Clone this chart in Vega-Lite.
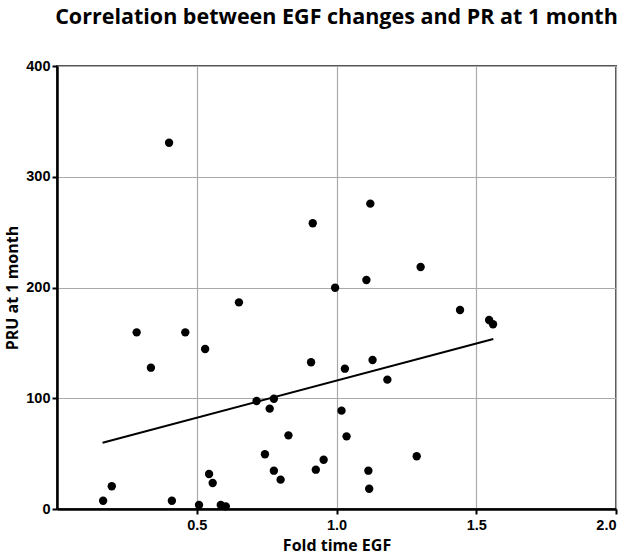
{
  "$schema": "https://vega.github.io/schema/vega-lite/v6.json",
  "autosize": "none",
  "width": 559,
  "height": 443,
  "padding": {"left": 57, "top": 66, "right": 12, "bottom": 50},
  "background": "white",
  "title": {
    "text": "Correlation between EGF changes and PR at 1 month",
    "font": "Open Sans",
    "fontSize": 21.5,
    "fontWeight": "bold",
    "color": "black",
    "anchor": "middle",
    "offset": 30
  },
  "config": {
    "view": {"stroke": "#555", "strokeWidth": 2},
    "axis": {
      "labelFont": "Liberation Sans",
      "labelFontWeight": "bold",
      "labelFontSize": 14.5,
      "labelColor": "black",
      "titleFont": "Open Sans",
      "titleFontWeight": "bold",
      "titleFontSize": 16,
      "titleColor": "black",
      "domainColor": "black",
      "domainWidth": 2.5,
      "tickColor": "black",
      "tickWidth": 2,
      "tickSize": 5,
      "gridColor": "#aaa",
      "gridWidth": 1.2
    }
  },
  "datasets": {
    "pts": [
      {"egf": 0.401, "pru": 330.7},
      {"egf": 0.915, "pru": 258},
      {"egf": 1.121, "pru": 275.7},
      {"egf": 1.301, "pru": 218.5},
      {"egf": 1.107, "pru": 206.8},
      {"egf": 0.995, "pru": 199.8},
      {"egf": 0.651, "pru": 186.6},
      {"egf": 0.285, "pru": 159.5},
      {"egf": 0.459, "pru": 159.5},
      {"egf": 0.530, "pru": 144.5},
      {"egf": 0.336, "pru": 127.6},
      {"egf": 0.909, "pru": 132.5},
      {"egf": 0.714, "pru": 97.5},
      {"egf": 0.776, "pru": 99.6},
      {"egf": 0.761, "pru": 90.6},
      {"egf": 0.828, "pru": 66.5},
      {"egf": 0.744, "pru": 49.4},
      {"egf": 0.776, "pru": 34.6},
      {"egf": 0.800, "pru": 26.5},
      {"egf": 0.926, "pru": 35.5},
      {"egf": 0.544, "pru": 31.6},
      {"egf": 0.557, "pru": 23.5},
      {"egf": 0.196, "pru": 20.5},
      {"egf": 0.165, "pru": 7.5},
      {"egf": 0.411, "pru": 7.5},
      {"egf": 0.508, "pru": 3.6},
      {"egf": 0.586, "pru": 3.6},
      {"egf": 0.604, "pru": 2.4},
      {"egf": 1.442, "pru": 179.7},
      {"egf": 1.546, "pru": 170.7},
      {"egf": 1.560, "pru": 166.8},
      {"egf": 1.129, "pru": 134.5},
      {"egf": 1.030, "pru": 126.7},
      {"egf": 1.182, "pru": 116.8},
      {"egf": 1.018, "pru": 88.8},
      {"egf": 1.036, "pru": 65.6},
      {"egf": 0.954, "pru": 44.5},
      {"egf": 1.287, "pru": 47.6},
      {"egf": 1.114, "pru": 34.6},
      {"egf": 1.117, "pru": 18.3}
    ],
    "fit": [
      {"egf": 0.163, "pru": 59.9},
      {"egf": 1.561, "pru": 153.5}
    ]
  },
  "layer": [
    {
      "data": {"name": "pts"},
      "mark": {"type": "circle", "size": 70, "color": "black", "opacity": 1},
      "encoding": {
        "x": {
          "field": "egf", "type": "quantitative",
          "scale": {"domain": [0, 2], "nice": false},
          "axis": {"title": "Fold time EGF", "values": [0.5, 1.0, 1.5, 2.0], "format": ".1f", "titlePadding": 6, "labelPadding": 4}
        },
        "y": {
          "field": "pru", "type": "quantitative",
          "scale": {"domain": [0, 400], "nice": false},
          "axis": {"title": "PRU at 1 month", "values": [0, 100, 200, 300, 400], "titlePadding": 5, "labelPadding": 2}
        }
      }
    },
    {
      "data": {"name": "fit"},
      "mark": {"type": "line", "color": "black", "strokeWidth": 2},
      "encoding": {
        "x": {"field": "egf", "type": "quantitative"},
        "y": {"field": "pru", "type": "quantitative"}
      }
    }
  ]
}
